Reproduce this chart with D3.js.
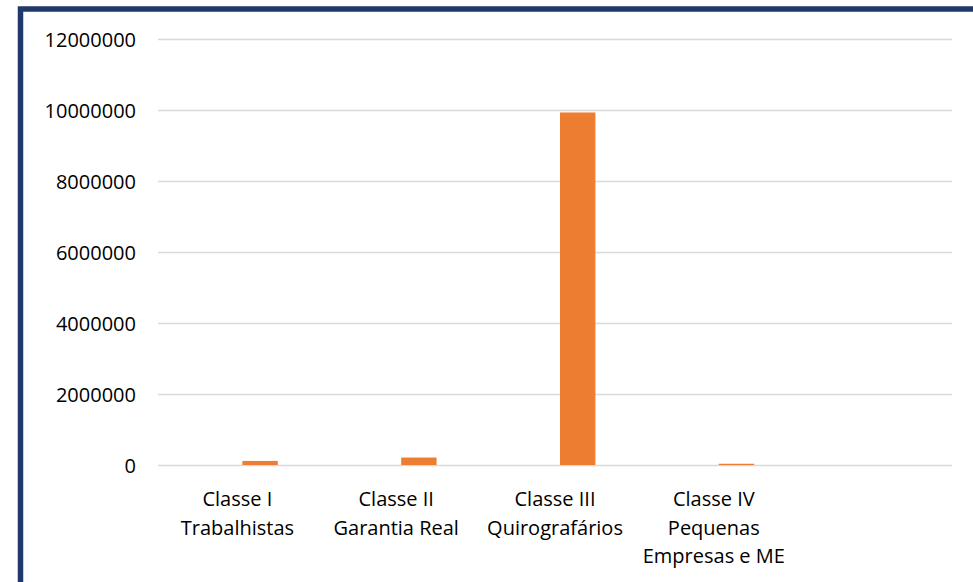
<!DOCTYPE html>
<html>
<head>
<meta charset="utf-8">
<script src="https://cdn.jsdelivr.net/npm/d3@7"></script>
<style>
	body { margin: 0; background: #fff; }
	svg { display: block; }
	.axis path, .axis line { display: none; }
	.axis text { fill: #000; font-size: 20px; font-family: "Open Sans", sans-serif; }
	.grid line { stroke: #d9d9d9; stroke-width: 1.5; }
	.grid path { display: none; }
</style>
</head>
<body>
<svg id="chart" width="973" height="582"></svg>
<script>
"use strict";

// Categories (last one is an empty slot, as in the original)
var categories = [
	"Classe I\nTrabalhistas",
	"Classe II\nGarantia Real",
	"Classe III\nQuirografários",
	"Classe IV\nPequenas\nEmpresas e ME",
	""
];
// Two series; the first one has no values, so only its space shows
var seriesNames = ["Série 1", "Série 2"];
var series1 = [null, null, null, null, null];
var series2 = [115000, 210000, 9930000, 35000, null];
var yTicks = [0, 2000000, 4000000, 6000000, 8000000, 10000000, 12000000];

var svg = d3.select("#chart");
var margin = {top: 39, right: 21, bottom: 117, left: 158};
var width = +svg.attr("width") - margin.left - margin.right;
var height = +svg.attr("height") - margin.top - margin.bottom;

// Frame, only top and left edges fall inside the picture
svg.append("rect")
	.attr("x", 20.5)
	.attr("y", 9)
	.attr("width", 2000)
	.attr("height", 2000)
	.attr("fill", "none")
	.attr("stroke", "#20386a")
	.attr("stroke-width", 5.5);

var chart = svg.append("g")
	.attr("transform", "translate(" + margin.left + "," + margin.top + ")");

var x0 = d3.scaleBand()
	.domain(categories)
	.range([0, width]);
var x1 = d3.scaleBand()
	.domain(seriesNames)
	.range([0, x0.bandwidth()])
	.paddingInner(0.22)
	.paddingOuter(0.86);
var y = d3.scaleLinear()
	.domain([0, 12000000])
	.range([height, 0]);

// Horizontal grid lines
chart.append("g")
	.attr("class", "grid")
	.call(d3.axisLeft(y).tickValues(yTicks).tickSize(-width).tickFormat(""));

// Y axis labels
chart.append("g")
	.attr("class", "axis")
	.call(d3.axisLeft(y).tickValues(yTicks).tickSize(0).tickPadding(22).tickFormat(d3.format("d")))
	.selectAll("text")
	.attr("dy", "0.35em");

// Bars
var rows = categories.map(function(c, i) {
	return {cat: c, values: [series1[i], series2[i]]};
});
var colours = d3.scaleOrdinal().domain(seriesNames).range(["#4472c4", "#ed7d31"]);

var group = chart.selectAll("g.cat")
	.data(rows)
	.enter()
	.append("g")
	.attr("class", "cat")
	.attr("transform", function(d) { return "translate(" + x0(d.cat) + ",0)"; });

group.selectAll("rect")
	.data(function(d) {
		return d.values.map(function(v, j) { return {name: seriesNames[j], value: v}; })
			.filter(function(e) { return e.value != null; });
	})
	.enter()
	.append("rect")
	.attr("x", function(d) { return x1(d.name); })
	.attr("y", function(d) { return y(d.value); })
	.attr("width", x1.bandwidth())
	.attr("height", function(d) { return height - y(d.value); })
	.attr("fill", function(d) { return colours(d.name); });

// X axis with multi-line labels
var xAxisElt = chart.append("g")
	.attr("class", "axis")
	.attr("transform", "translate(0," + height + ")")
	.call(d3.axisBottom(x0).tickSize(0).tickFormat(""));

xAxisElt.selectAll(".tick").append("text")
	.attr("fill", "#000")
	.attr("text-anchor", "middle")
	.each(function(d) {
		var lines = d.split("\n");
		var t = d3.select(this);
		lines.forEach(function(line, i) {
			t.append("tspan")
				.attr("x", 0)
				.attr("y", 41 + i * 28.5)
				.text(line);
		});
	});
</script>
</body>
</html>
